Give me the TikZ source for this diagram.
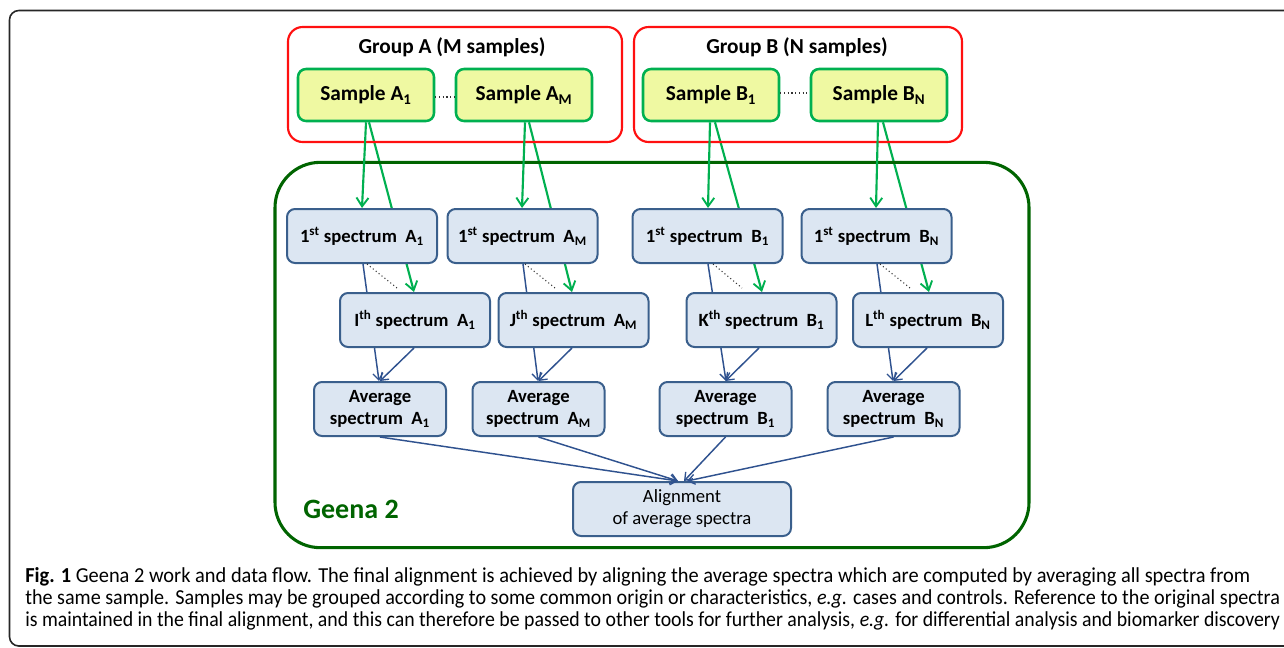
\documentclass[tikz,border=0pt]{standalone}
\usepackage{fontspec}
\setmainfont{Carlito}
\usepackage{graphicx}
\usetikzlibrary{arrows.meta,calc,backgrounds}
\definecolor{grn}{HTML}{00B050}
\definecolor{dgrn}{HTML}{006400}
\definecolor{sfill}{HTML}{EFF9A2}
\definecolor{bfill}{HTML}{DCE6F2}
\definecolor{bdraw}{HTML}{3A5F8C}
\definecolor{barr}{HTML}{2F528F}
\definecolor{red0}{HTML}{FF1010}
\tikzset{
  samplebox/.style={draw=grn, line width=1.9pt, fill=sfill, rounded corners=6pt,
    minimum width=102pt, minimum height=39pt, inner sep=0pt,
    font=\fontsize{16}{19}\selectfont\bfseries},
  specbox/.style={draw=bdraw, line width=1.5pt, fill=bfill, rounded corners=6pt,
    minimum width=112.5pt, minimum height=40.5pt, inner sep=0pt,
    font=\fontsize{14}{16.5}\selectfont\bfseries},
  avgbox/.style={specbox, minimum width=99pt, align=center},
  alignbox/.style={specbox, minimum width=163.5pt, align=center,
    font=\fontsize{14}{16.5}\selectfont},
  groupbox/.style={draw=red0, line width=1.6pt, rounded corners=11pt,
    minimum height=86.25pt, inner sep=0pt},
  grouptitle/.style={font=\fontsize{16}{19}\selectfont\bfseries, inner sep=0pt},
  garrow/.style={draw=grn, line width=1.6pt, -{Straight Barb[length=6.5pt,width=9pt,line width=1.4pt]}},
  barrow/.style={draw=barr, line width=1.1pt, -{Straight Barb[length=5pt,width=7.5pt,line width=1pt]}},
  dotline/.style={draw=black!80, line width=0.8pt, dotted},
  captxt/.style={anchor=base west, inner sep=0pt, font=\fontsize{16}{19}\selectfont},
}
\begin{document}
\begin{tikzpicture}[x=0.75pt,y=-0.75pt]
\useasboundingbox (0,0) rectangle (1284,647);
% outer frame
\begin{scope}
\clip (0,0) rectangle (1284,647);
\draw[black!85, line width=1.2pt, rounded corners=7pt] (9.5,10.5) rectangle (1310,646);
\end{scope}
% groups
\node[groupbox, minimum width=250.5pt] (grpA) at (455,84.5) {};
\node[groupbox, minimum width=246pt] (grpB) at (798,84.5) {};
\node[grouptitle] (titA) at (452,47) {Group A (M samples)};
\node[grouptitle] (titB) at (797,47) {Group B (N samples)};
% samples
\node[samplebox] (sA1) at (366,95) {Sample A\textsubscript{1}};
\node[samplebox] (sAM) at (524,95) {Sample A\textsubscript{M}};
\node[samplebox] (sB1) at (711,95) {Sample B\textsubscript{1}};
\node[samplebox] (sBN) at (879,95) {Sample B\textsubscript{N}};
\draw[dotline] ($(sA1.east)+(0,2)$) -- ($(sAM.west)+(0,2)$);
\draw[dotline] ($(sB1.east)+(0,-2)$) -- ($(sBN.west)+(0,-2)$);
% geena frame
\node[draw=dgrn, line width=2.3pt, rounded corners=34pt, minimum width=565.5pt,
  minimum height=289pt, inner sep=0pt] (geena) at (652,355) {};
\node[font=\fontsize{21}{24}\selectfont\bfseries, text=dgrn, inner sep=0pt] (glabel) at (351,509) {Geena 2};
% first spectra
\node[specbox] (fA1) at (362,236) {1\textsuperscript{st} spectrum~ A\textsubscript{1}};
\node[specbox] (fAM) at (522.5,236) {1\textsuperscript{st} spectrum~ A\textsubscript{M}};
\node[specbox] (fB1) at (707.5,236) {1\textsuperscript{st} spectrum~ B\textsubscript{1}};
\node[specbox] (fBN) at (876.5,236) {1\textsuperscript{st} spectrum~ B\textsubscript{N}};
% i-th spectra
\node[specbox] (iA1) at (415,320) {I\textsuperscript{th} spectrum~ A\textsubscript{1}};
\node[specbox] (jAM) at (573.5,320) {J\textsuperscript{th} spectrum~ A\textsubscript{M}};
\node[specbox] (kB1) at (761.5,320) {K\textsuperscript{th} spectrum~ B\textsubscript{1}};
\node[specbox] (lBN) at (928,320) {L\textsuperscript{th} spectrum~ B\textsubscript{N}};
% averages
\node[avgbox] (aA1) at (380,409) {Average\\spectrum~ A\textsubscript{1}};
\node[avgbox] (aAM) at (538.5,409) {Average\\spectrum~ A\textsubscript{M}};
\node[avgbox] (aB1) at (725.5,409) {Average\\spectrum~ B\textsubscript{1}};
\node[avgbox] (aBN) at (893.5,409) {Average\\spectrum~ B\textsubscript{N}};
% alignment
\node[alignbox] (aln) at (682,509) {Alignment\\of average spectra};
% connectors passing behind boxes
\begin{pgfonlayer}{background}
\draw[garrow] ($(sA1.south)+(3,0)$) -- ($(iA1.north)+(-1,0)$);
\draw[garrow] ($(sAM.south)+(5,0)$) -- ($(jAM.north)+(-1.5,0)$);
\draw[garrow] ($(sB1.south)+(4,0)$) -- ($(kB1.north)+(0.5,0)$);
\draw[garrow] ($(sBN.south)+(4,0)$) -- ($(lBN.north)+(1,0)$);
\draw[barrow] ($(fA1.south)+(1,0)$) -- ($(aA1.north)+(-1,0)$);
\draw[barrow] ($(fAM.south)+(0.5,0)$) -- ($(aAM.north)+(-0.5,0)$);
\draw[barrow] ($(fB1.south)+(0.5,0)$) -- ($(aB1.north)+(0.5,0)$);
\draw[barrow] ($(fBN.south)+(0.5,0)$) -- ($(aBN.north)+(-0.5,0)$);
\end{pgfonlayer}
% green arrows
\draw[garrow] (sA1.south) -- (fA1.north);
\draw[garrow] ($(sAM.south)+(1,0)$) -- ($(fAM.north)+(-0.5,0)$);
\draw[garrow] ($(sB1.south)+(-1,0)$) -- ($(fB1.north)+(0.5,0)$);
\draw[garrow] ($(sBN.south)+(-1,0)$) -- ($(fBN.north)+(-0.5,0)$);
% dotted
\draw[dotline] ($(fA1.south)+(5,0)$) -- ($(iA1.north)+(-18,-4)$);
\draw[dotline] ($(fAM.south)+(2.5,0)$) -- ($(jAM.north)+(-18.5,-4)$);
\draw[dotline] ($(fB1.south)+(5.5,0)$) -- ($(kB1.north)+(-19.5,-4)$);
\draw[dotline] ($(fBN.south)+(3.5,0)$) -- ($(lBN.north)+(-18,-4)$);
% blue arrows
\draw[barrow] ($(iA1.south)+(-1,0)$) -- (aA1.north);
\draw[barrow] ($(jAM.south)+(-1.5,0)$) -- (aAM.north);
\draw[barrow] ($(kB1.south)+(-2.5,0)$) -- (aB1.north);
\draw[barrow] ($(lBN.south)+(-1,0)$) -- (aBN.north);
\draw[barrow] (aA1.south) -- ($(aln.north)+(-4,0)$);
\draw[barrow] (aAM.south) -- ($(aln.north)+(-4,0)$);
\draw[barrow] (aB1.south) -- ($(aln.north)+(2,0)$);
\draw[barrow] (aBN.south) -- ($(aln.north)+(5,0)$);
% caption
\node[captxt] (cap1) at (25,582) {\resizebox{918.75pt}{\height}{\textbf{Fig. 1} Geena 2 work and data flow. The final alignment is achieved by aligning the average spectra which are computed by averaging all spectra from}};
\node[captxt] (cap2) at (25,604) {\resizebox{941pt}{\height}{the same sample. Samples may be grouped according to some common origin or characteristics, \textit{e.g.} cases and controls. Reference to the original spectra}};
\node[captxt] (cap3) at (25,626) {\resizebox{941pt}{\height}{is maintained in the final alignment, and this can therefore be passed to other tools for further analysis, \textit{e.g.} for differential analysis and biomarker discovery}};
\end{tikzpicture}
\end{document}
